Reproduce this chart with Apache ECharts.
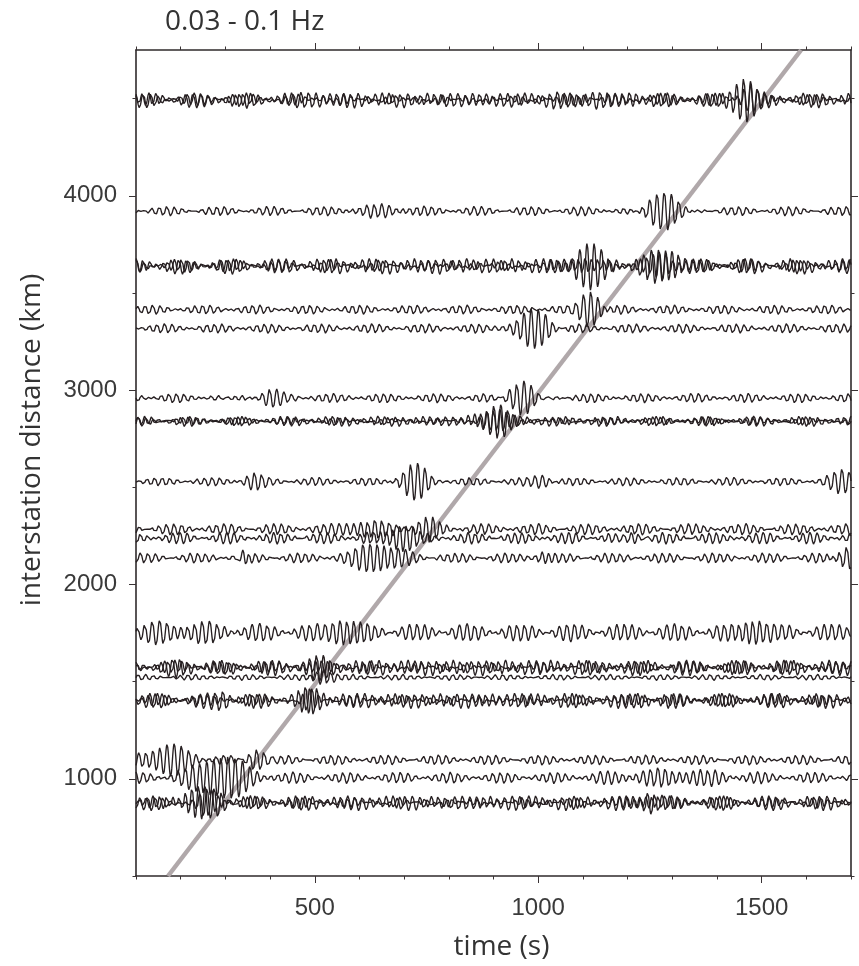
<!DOCTYPE html>
<html><head><meta charset="utf-8">
<script src="https://cdn.jsdelivr.net/npm/echarts@6/dist/echarts.min.js"></script>
<style>html,body{margin:0;padding:0;background:#fff}#c{width:859px;height:966px}</style>
</head><body><div id="c"></div>
<script>
// ---- axis ranges and ticks ----
const timeRange = [100, 1700];
const distRange = [500, 4750];
const xMajorTicks = [500, 1000, 1500];
const xMinorTicks = [100, 200, 300, 400, 500, 600, 700, 800, 900, 1000, 1100, 1200, 1300, 1400, 1500, 1600, 1700];
const yMajorTicks = [1000, 2000, 3000, 4000];
const yMinorTicks = [500, 1000, 1500, 2000, 2500, 3000, 3500, 4000, 4500];

// ---- traces (interstation distance, km) ----
const traceDistances = [4490, 4497, 3921, 3636, 3642, 3414, 3317, 2959, 2838, 2843, 2529, 2284, 2238, 2136, 1752, 1570, 1576, 1522, 1401, 1406, 1097, 1005, 874, 880];
// background noise amplitude (km)
const traceNoise = [32, 28, 22, 34, 30, 22, 22, 22, 22, 20, 20, 26, 26, 24, 40, 34, 30, 14, 34, 28, 24, 26, 32, 28];
// dominant period (s)
const tracePeriods = [16, 14.5, 16, 16, 14.5, 16, 16, 16, 16, 14.5, 16, 16, 15, 16, 16, 16, 14.5, 16, 16, 14.5, 16, 16, 16, 14.5];
// wave packets: [centre time (s), amplitude (km), half width (s)]
const tracePackets = [
  [[1460, 110, 28], [1090, 30, 60], [520, 25, 70], [310, 20, 30]],
  [[1475, 50, 30], [1220, 20, 30]],
  [[1282, 105, 55], [650, 15, 80]],
  [[1110, 100, 40], [1270, 60, 40]],
  [[1120, 60, 40], [1285, 95, 40]],
  [[1118, 95, 32]],
  [[985, 105, 48]],
  [[968, 92, 42], [400, 35, 25], [310, 25, 25]],
  [[916, 100, 38]],
  [[900, 60, 40]],
  [[730, 97, 38], [365, 30, 25], [1010, 25, 30], [1680, 45, 35]],
  [[750, 85, 30], [620, 45, 50]],
  [[690, 65, 50], [1210, 30, 30]],
  [[340, 60, 12], [640, 70, 55], [1010, 40, 18], [1690, 60, 30]],
  [[573, 80, 40], [1480, 60, 30], [200, 25, 100]],
  [[505, 100, 30], [200, 25, 80]],
  [[515, 70, 30]],
  [[520, 40, 25]],
  [[490, 95, 30], [295, 35, 25], [1240, 35, 25]],
  [[480, 50, 30]],
  [[170, 65, 55], [370, 60, 35]],
  [[290, 100, 70], [1300, 25, 120]],
  [[260, 85, 45], [1245, 45, 25]],
  [[240, 55, 50], [1255, 30, 25]]
];
// moveout line
const moveoutVelocity = 3.0; // km/s
const moveoutDelay = 5;      // s

function traceData(i) {
  const d = traceDistances[i], T = tracePeriods[i], ph = i * 2.1;
  const pts = [];
  for (let t = timeRange[0]; t <= timeRange[1]; t += 1) {
    const noise = traceNoise[i] * (Math.sin(2 * Math.PI * t / T + ph) + 0.8 * Math.sin(2 * Math.PI * t / (T * 1.16) + ph * 1.7)) / 1.5;
    let sig = 0;
    for (const [c, a, w] of tracePackets[i]) {
      const u = (t - c) / w;
      sig += a * Math.exp(-(u * u)) * Math.cos(2 * Math.PI * (t - c) / T);
    }
    pts.push([t, d + noise + sig]);
  }
  return pts;
}

const ink = '#261f21';
const series = [{
  type: 'line', silent: true, showSymbol: false, z: 1,
  lineStyle: { color: '#b0a8aa', width: 4.5 },
  data: distRange.map(dd => [dd / moveoutVelocity + moveoutDelay, dd])
}];
traceDistances.forEach((d, i) => {
  series.push({
    type: 'line', silent: true, showSymbol: false, z: 2, clip: true,
    lineStyle: { color: ink, width: 1.35 },
    data: traceData(i)
  });
});

const lineStyle = { show: true, lineStyle: { color: '#2f2a2b', width: 1.6 } };
function xAx(pos, major, withLabel) {
  return {
    type: 'value', position: pos, min: timeRange[0], max: timeRange[1],
    axisLine: major ? { show: false } : lineStyle,
    splitLine: { show: false },
    axisTick: { show: true, customValues: major ? xMajorTicks : xMinorTicks, length: major ? 7 : 3.5, lineStyle: { color: '#3a3335', width: 1 } },
    axisLabel: withLabel ? { show: true, customValues: xMajorTicks, formatter: v => String(v), margin: 20, color: '#3a3a3a', fontSize: 24, fontFamily: 'Liberation Sans' } : { show: false },
    name: withLabel ? 'time (s)' : '',
    nameLocation: 'middle', nameGap: 57,
    nameTextStyle: { fontSize: 28, color: '#333', fontFamily: 'Open Sans', padding: [0, 0, 0, 16] }
  };
}
function yAx(pos, major, withLabel) {
  return {
    type: 'value', position: pos, min: distRange[0], max: distRange[1],
    axisLine: major ? { show: false } : lineStyle,
    splitLine: { show: false },
    axisTick: { show: true, customValues: major ? yMajorTicks : yMinorTicks, length: major ? 7 : 3.5, lineStyle: { color: '#3a3335', width: 1 } },
    axisLabel: withLabel ? { show: true, customValues: yMajorTicks, formatter: v => String(v), margin: 19, color: '#3a3a3a', fontSize: 24, fontFamily: 'Liberation Sans' } : { show: false }
  };
}

const chart = echarts.init(document.getElementById('c'), null, { renderer: 'canvas' });
chart.setOption({
  animation: false,
  backgroundColor: '#ffffff',
  grid: { left: 136, right: 8, top: 50, bottom: 84, containLabel: false },
  xAxis: [xAx('bottom', false, true), xAx('bottom', true, false), xAx('top', false, false), xAx('top', true, false)],
  yAxis: [yAx('left', false, true), yAx('left', true, false), yAx('right', false, false), yAx('right', true, false)],
  graphic: [
    { type: 'text', x: 165, y: 22, style: { text: '0.03 - 0.1 Hz', font: '28px "Open Sans"', fill: '#333', textVerticalAlign: 'middle' } },
    { type: 'text', x: 32, y: 440, rotation: Math.PI / 2, style: { text: 'interstation distance (km)', font: '28px "Open Sans"', fill: '#333', textAlign: 'center', textVerticalAlign: 'middle' } }
  ],
  series: series
});
</script></body></html>
